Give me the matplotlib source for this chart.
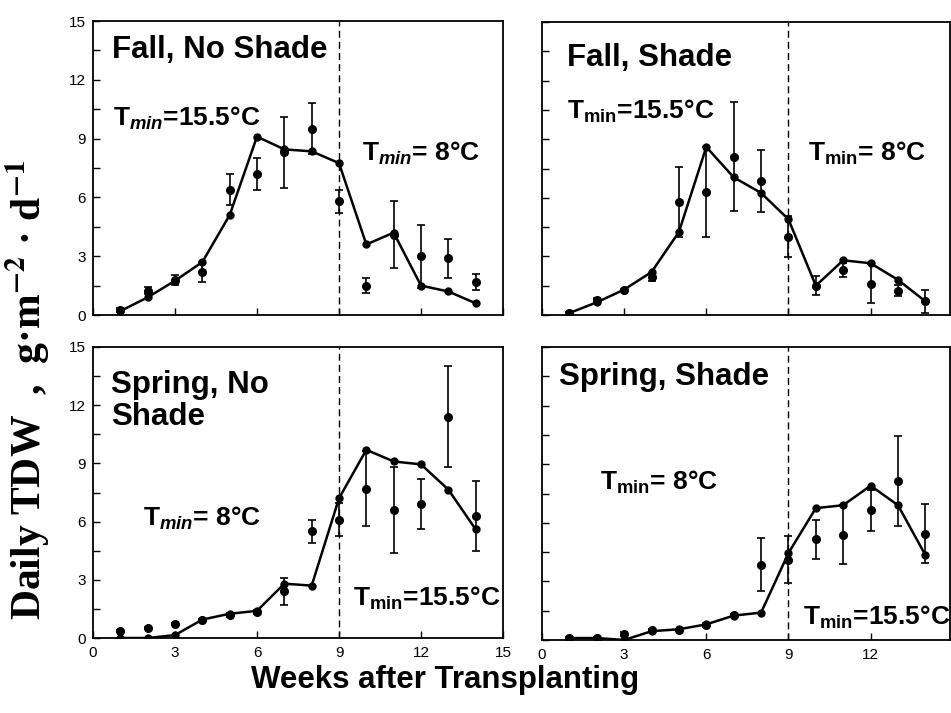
import matplotlib.pyplot as plt

plt.rcParams['font.family'] = ['Liberation Sans', 'DejaVu Sans']
plt.rcParams['mathtext.fontset'] = 'custom'
plt.rcParams['mathtext.rm'] = 'Liberation Sans:bold'
plt.rcParams['mathtext.it'] = 'Liberation Sans:italic:bold'
plt.rcParams['mathtext.bf'] = 'Liberation Sans:bold'

weeks = list(range(1, 15))

# simulated (line) and measured (points + error bars), g m-2 d-1
fall_noshade_line = [0.2, 0.9, 1.75, 2.7, 5.1, 9.1, 8.45, 8.35, 7.75, 3.6, 4.2, 1.5, 1.2, 0.6]
fall_noshade_obs = [0.25, 1.25, 1.8, 2.2, 6.4, 7.2, 8.3, 9.5, 5.8, 1.5, 4.1, 3.0, 2.9, 1.7]
fall_noshade_err = [0.1, 0.2, 0.25, 0.5, 0.8, 0.8, 1.8, 1.3, 0.6, 0.4, 1.7, 1.6, 1.0, 0.4]

fall_shade_line = [0.1, 0.65, 1.3, 2.2, 4.25, 8.6, 7.05, 6.25, 4.9, 1.5, 2.8, 2.65, 1.8, 0.7]
fall_shade_obs = [0.1, 0.75, 1.3, 1.95, 5.8, 6.3, 8.1, 6.85, 4.0, 1.5, 2.3, 1.6, 1.25, 0.7]
fall_shade_err = [0.05, 0.1, 0.05, 0.2, 1.8, 2.3, 2.8, 1.6, 1.05, 0.5, 0.35, 1.0, 0.3, 0.6]

spring_noshade_line = [0.0, 0.0, 0.15, 0.95, 1.25, 1.4, 2.8, 2.7, 7.2, 9.7, 9.1, 8.95, 7.65, 5.6]
spring_noshade_obs = [0.35, 0.5, 0.7, 0.95, 1.2, 1.35, 2.4, 5.5, 6.1, 7.7, 6.6, 6.9, 11.4, 6.3]
spring_noshade_err = [0.05, 0.05, 0.05, 0.05, 0.1, 0.1, 0.7, 0.6, 0.85, 1.95, 2.2, 1.3, 2.6, 1.8]

spring_shade_line = [0.1, 0.1, 0.0, 0.45, 0.55, 0.8, 1.25, 1.4, 4.45, 6.75, 6.9, 7.9, 6.9, 4.35]
spring_shade_obs = [0.1, 0.1, 0.3, 0.5, 0.5, 0.75, 1.3, 3.85, 4.1, 5.15, 5.4, 6.65, 8.15, 5.45]
spring_shade_err = [0.05, 0.05, 0.1, 0.05, 0.05, 0.1, 0.05, 1.35, 1.2, 1.0, 1.5, 1.05, 2.3, 1.5]

W, H = 951, 713


def px(x, y):
    return x / W, 1 - y / H


fig = plt.figure(figsize=(9.51, 7.13), dpi=100)

# axes boxes in pixels: left, top, right, bottom
boxes = {
    'tl': (93, 21, 503, 315),
    'tr': (542, 22, 950, 315),
    'bl': (93, 347, 503, 638),
    'br': (542, 347, 950, 640),
}
panels = {
    'tl': (fall_noshade_line, fall_noshade_obs, fall_noshade_err),
    'tr': (fall_shade_line, fall_shade_obs, fall_shade_err),
    'bl': (spring_noshade_line, spring_noshade_obs, spring_noshade_err),
    'br': (spring_shade_line, spring_shade_obs, spring_shade_err),
}

for key, (l, t, r, b) in boxes.items():
    ax = fig.add_axes([l / W, 1 - b / H, (r - l) / W, (b - t) / H])
    line, obs, err = panels[key]
    ax.errorbar(weeks, obs, yerr=err, fmt='o', color='black', ms=5.5,
                elinewidth=1.2, capsize=3, capthick=1.2, zorder=3)
    ax.plot(weeks, line, '-o', color='black', lw=1.8, ms=5, zorder=4)
    ax.axvline(9, color='black', ls=(0, (5, 3)), lw=1)
    ax.set_ylim(0, 15)
    ax.set_xlim(0, 15 if key[1] == 'l' else 14.9)
    ax.set_yticks([0, 3, 6, 9, 12, 15])
    ax.set_yticks([1.5, 4.5, 7.5, 10.5, 13.5], minor=True)
    ax.set_xticks([0, 3, 6, 9, 12, 15] if key[1] == 'l' else [0, 3, 6, 9, 12])
    ax.tick_params(which='both', direction='in', labelsize=11, length=5, width=1)
    ax.tick_params(axis='y', pad=5)
    ax.tick_params(axis='x', pad=6)
    if key[0] == 't':
        ax.tick_params(axis='x', labelbottom=False)
    if key[1] == 'r':
        ax.tick_params(axis='y', labelleft=False)
    for s in ax.spines.values():
        s.set_linewidth(1.3)

title_kw = dict(fontsize=22.5, fontweight='bold', va='center', ha='left')
tmin_kw = dict(fontsize=19, fontweight='bold', va='center', ha='left')

fig.text(*px(112, 50), 'Fall, No Shade', **title_kw)
fig.text(*px(113, 118), r'T$_{\mathit{min}}$=15.5°C', **tmin_kw)
fig.text(*px(362, 153), r'T$_{\mathit{min}}$= 8°C', **tmin_kw)

fig.text(*px(567, 58), 'Fall, Shade', **title_kw)
fig.text(*px(567, 111), r'T$_{\mathrm{min}}$=15.5°C', **tmin_kw)
fig.text(*px(808, 153), r'T$_{\mathrm{min}}$= 8°C', **tmin_kw)

fig.text(*px(111, 401), 'Spring, No\nShade', linespacing=1.05, **title_kw)
fig.text(*px(143, 518), r'T$_{\mathit{min}}$= 8°C', **tmin_kw)
fig.text(*px(353, 598), r'T$_{\mathrm{min}}$=15.5°C', **tmin_kw)

fig.text(*px(559, 377), 'Spring, Shade', **title_kw)
fig.text(*px(600, 482), r'T$_{\mathrm{min}}$= 8°C', **tmin_kw)
fig.text(*px(803, 617), r'T$_{\mathrm{min}}$=15.5°C', **tmin_kw)

fig.text(*px(445, 680), 'Weeks after Transplanting', fontsize=22.5,
         fontweight='bold', ha='center', va='center')
fig.text(*px(27, 390),
         r'Daily TDW  ,  g·m$^{\mathbf{-2}}$ · d$^{\mathbf{-1}}$',
         family='Liberation Serif', fontweight='bold', fontsize=30,
         math_fontfamily='stix', rotation=90, ha='center', va='center')

fig.savefig('out.png', dpi=100)
